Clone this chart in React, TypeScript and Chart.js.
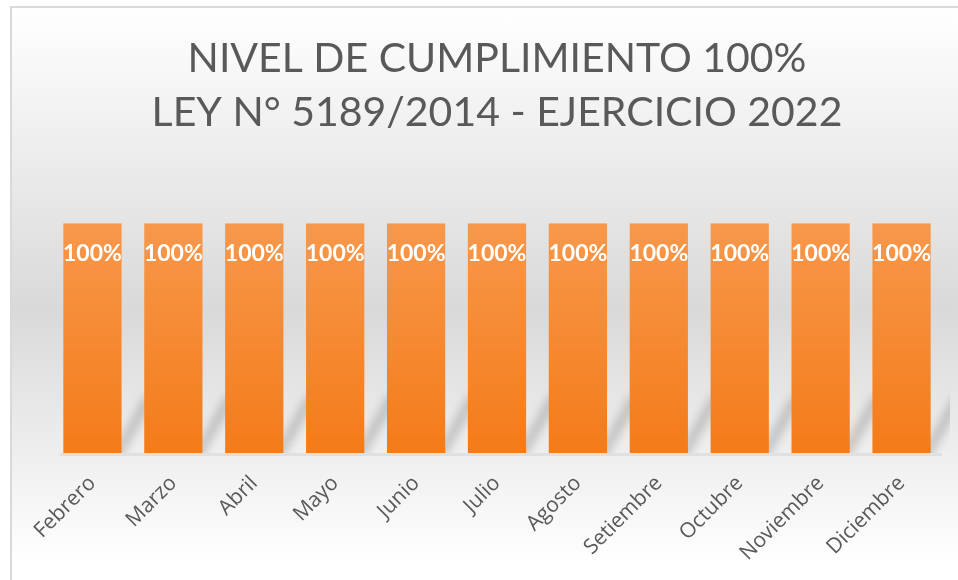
import React, { useEffect, useRef } from "react";
import { Chart, registerables } from "chart.js";

Chart.register(...registerables);

const titleLines = ["NIVEL DE CUMPLIMIENTO 100%", "LEY N° 5189/2014 - EJERCICIO 2022"];
const months = ["Febrero", "Marzo", "Abril", "Mayo", "Junio", "Julio", "Agosto", "Setiembre", "Octubre", "Noviembre", "Diciembre"];
const cumplimiento = [100, 100, 100, 100, 100, 100, 100, 100, 100, 100, 100];
const valueLabels = ["100%", "100%", "100%", "100%", "100%", "100%", "100%", "100%", "100%", "100%", "100%"];

const shadowPlugin = {
  id: "barShadow",
  beforeDatasetsDraw(chart: any) {
    const { ctx, chartArea } = chart;
    const meta = chart.getDatasetMeta(0);
    ctx.save();
    ctx.fillStyle = "rgba(0,0,0,0.06)";
    ctx.fillRect(chartArea.left + 8, chartArea.bottom, chartArea.right - chartArea.left - 8, 3);
    ctx.beginPath();
    ctx.rect(chartArea.left, 0, chartArea.right - chartArea.left + 8, chartArea.bottom);
    ctx.clip();
    ctx.filter = "blur(5px)";
    ctx.strokeStyle = "rgba(0,0,0,0.2)";
    ctx.lineWidth = 9;
    meta.data.forEach((bar: any) => {
      const right = bar.x + bar.width / 2;
      ctx.beginPath();
      ctx.moveTo(right - 6, bar.base + 4);
      ctx.lineTo(right + 28, bar.base - 56);
      ctx.stroke();
    });
    ctx.restore();
  },
};

const labelPlugin = {
  id: "valueLabels",
  afterDatasetsDraw(chart: any) {
    const { ctx } = chart;
    const meta = chart.getDatasetMeta(0);
    ctx.save();
    ctx.font = "bold 23px Lato";
    ctx.fillStyle = "#ffffff";
    ctx.textAlign = "center";
    ctx.textBaseline = "middle";
    meta.data.forEach((bar: any, i: number) => {
      ctx.fillText(valueLabels[i], bar.x, bar.y + 30);
    });
    ctx.restore();
  },
};

export default function App() {
  const ref = useRef<HTMLCanvasElement>(null);
  useEffect(() => {
    const canvas = ref.current!;
    const chart = new Chart(canvas, {
      type: "bar",
      data: {
        labels: months,
        datasets: [
          {
            data: cumplimiento,
            backgroundColor: (c: any) => {
              const area = c.chart.chartArea;
              if (!area) return "#F68630";
              const g = c.chart.ctx.createLinearGradient(0, area.top, 0, area.bottom);
              g.addColorStop(0, "#F7984C");
              g.addColorStop(1, "#F47B18");
              return g;
            },
            borderWidth: 0,
            barPercentage: 0.72,
            categoryPercentage: 1,
          },
        ],
      },
      options: {
        responsive: false,
        animation: false,
        layout: { padding: { left: 52, right: 16, top: 0, bottom: 0 } },
        plugins: {
          legend: { display: false },
          tooltip: { enabled: false },
          title: {
            display: true,
            text: titleLines,
            color: "#595959",
            font: { family: "Lato", size: 41, weight: "normal", lineHeight: 1.32 },
            padding: { top: 32, bottom: 83 },
          },
        },
        scales: {
          y: { display: false, min: 0, max: 100 },
          x: {
            grid: { display: false, drawTicks: false },
            border: { display: false },
            ticks: {
              color: "#595959",
              font: { family: "Open Sans", size: 21 },
              minRotation: 45,
              maxRotation: 45,
              padding: 18,
            },
            afterFit: (scale: any) => {
              scale.height = 127;
              scale.paddingLeft = 0;
              scale.paddingRight = 0;
            },
          },
        },
      },
      plugins: [shadowPlugin, labelPlugin],
    });
    return () => chart.destroy();
  }, []);

  return (
    <div style={{ position: "fixed", left: 0, top: 0, width: 958, height: 580, background: "#ffffff", overflow: "hidden" }}>
      <div
        style={{
          position: "absolute",
          left: 10,
          top: 6,
          width: 960,
          height: 580,
          borderLeft: "2px solid #d9d9d9",
          borderTop: "2px solid #d9d9d9",
          background: "linear-gradient(to bottom, #ffffff 0%, #d9d9d9 52%, #ffffff 96%)",
        }}
      />
      <canvas ref={ref} width={958} height={580} style={{ position: "absolute", left: 0, top: 0 }} />
    </div>
  );
}
